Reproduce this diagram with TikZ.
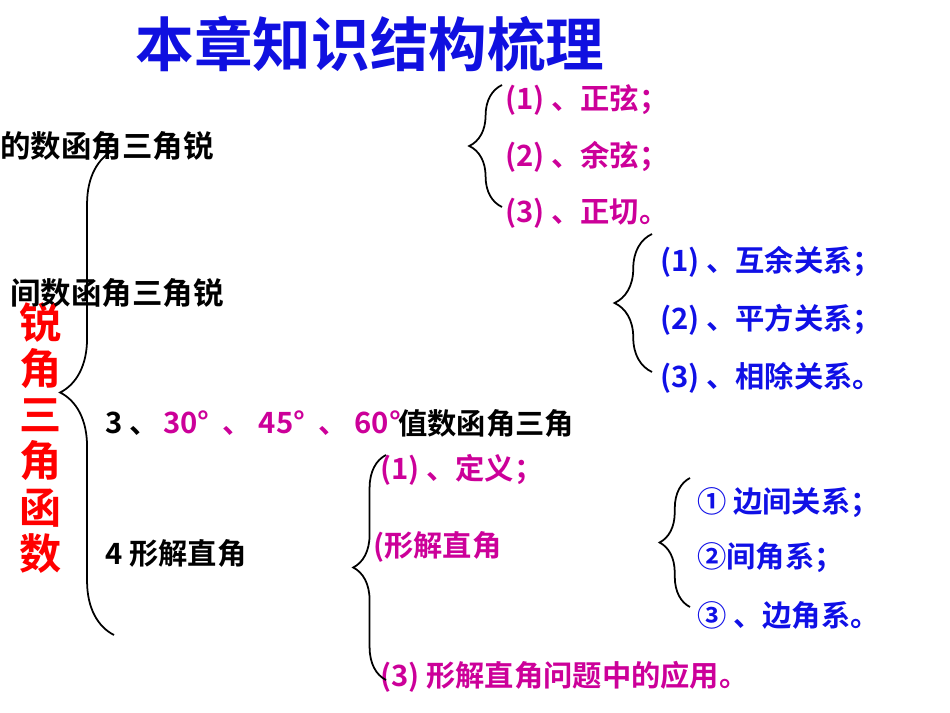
\documentclass[tikz,border=0pt]{standalone}
\usepackage{fontspec}
\setmainfont{Noto Sans CJK SC}[BoldFont={* Bold}]
\usepackage{xcolor}
\usetikzlibrary{decorations.pathreplacing}
\definecolor{titleblue}{HTML}{1010E0}
\definecolor{itemblue}{HTML}{1010E6}
\definecolor{itemmag}{HTML}{CC0099}
\definecolor{mainred}{HTML}{FF0000}

\begin{document}
\begin{tikzpicture}[x=0.03cm,y=-0.03cm,
    txt/.style={anchor=west,inner sep=0pt,font=\fontsize{25}{30}\selectfont\bfseries},
    blk/.style={txt,text=black},
    mag/.style={txt,text=itemmag},
    blu/.style={txt,text=itemblue},
    brc/.style={decorate,line width=1.5pt,decoration={brace,amplitude=#1}},
    brc/.default=28]
  \useasboundingbox (0,0) rectangle (950,713);
  \node[anchor=center,inner sep=0pt,text=titleblue,font=\fontsize{50}{54}\selectfont\bfseries] (title) at (370,44) {本章知识结构梳理};
  % main title on the left
  \node[anchor=north,inner sep=0pt,text=mainred,align=center,font=\fontsize{36}{39.5}\selectfont\bfseries] (main) at (41,302) {锐\\角\\三\\角\\函\\数};
  % first level
  \node[blk,font=\fontsize{26}{30}\selectfont\bfseries] (def) at (0,146) {的数函角三角锐};
  \node[blk,font=\fontsize{26}{30}\selectfont\bfseries] (rel) at (10,293) {间数函角三角锐};
  \node[blk] (spec) at (105,423) {3 、\textcolor{itemmag}{\,30°\ \ 、\ 45°\ \ 、\ 60°}};
  \node[blk] (specb) at (398,423) {值数函角三角};
  \node[blk] (solve) at (105,553) {4 形解直角};
  % sin cos tan
  \node[mag] (sin) at (505,100) {(1) 、正弦；};
  \node[mag] (cos) at (505,157) {(2) 、余弦；};
  \node[mag] (tan) at (505,213) {(3) 、正切。};
  % relations
  \node[blu] (cofn) at (660,262) {(1) 、互余关系；};
  \node[blu] (sq) at (660,320) {(2) 、平方关系；};
  \node[blu] (quot) at (660,378) {(3) 、相除关系。};
  % solving
  \node[mag] (sdef) at (380,470) {(1) 、定义；};
  \node[mag] (smeth) at (373,547) {(形解直角};
  \node[mag] (sapp) at (380,677) {(3) 形解直角问题中的应用。};
  % right triangle relations
  \node[blu] (side) at (697,503) {① 边间关系；};
  \node[blu] (angl) at (697,558) {②间角系；};
  \node[blu] (mix) at (697,615) {③ 、边角系。};
  % braces
  \coordinate (b1t) at (114,150);
  \coordinate (b1b) at (114,635);
  \draw[brc=46] (b1b) -- (b1t);
  \coordinate (b2t) at (502,85);
  \coordinate (b2b) at (502,207);
  \draw[brc] (b2b) -- (b2t);
  \coordinate (b3t) at (652,234);
  \coordinate (b3b) at (652,372);
  \draw[brc=32] (b3b) -- (b3t);
  \coordinate (b4t) at (386,455);
  \coordinate (b4b) at (386,680);
  \draw[brc] (b4b) -- (b4t);
  \coordinate (b5t) at (690,478);
  \coordinate (b5b) at (690,607);
  \draw[brc=26] (b5b) -- (b5t);
\end{tikzpicture}
\end{document}
